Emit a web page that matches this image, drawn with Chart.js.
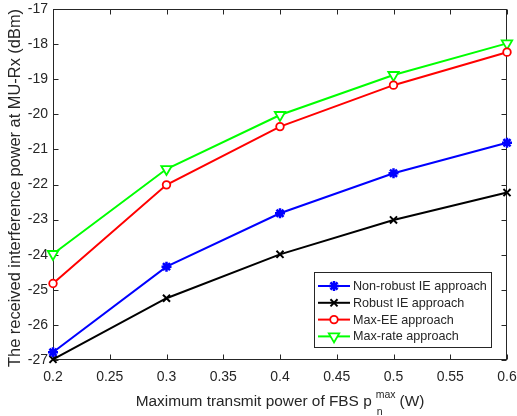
<!DOCTYPE html>
<html>
<head>
  <title>Interference power vs transmit power</title>
  <script src="https://cdn.jsdelivr.net/npm/chart.js"></script>
  <style>
    body { margin: 0; background: #fff; }
  </style>
</head>
<body>
<canvas id="ieChart" width="517" height="416"></canvas>

<script>
  // values
  const xValues = [0.2, 0.3, 0.4, 0.5, 0.6];
  const nonRobust = [-26.78, -24.34, -22.82, -21.68, -20.81];
  const robust = [-26.98, -25.24, -23.99, -23.01, -22.23];
  const maxEE = [-24.82, -22.01, -20.35, -19.17, -18.23];
  const maxRate = [-23.98, -21.56, -20.02, -18.88, -17.98];

  const xTicks = [0.2, 0.25, 0.3, 0.35, 0.4, 0.45, 0.5, 0.55, 0.6];
  const yTicks = [-27, -26, -25, -24, -23, -22, -21, -20, -19, -18, -17];

  const seriesNames = ['Non-robust IE approach', 'Robust IE approach', 'Max-EE approach', 'Max-rate approach'];

  const FONT = '"Liberation Sans", Arial, sans-serif';
  const AXIS_COLOR = '#262626';

  const toPoints = ys => xValues.map((x, i) => ({ x: x, y: ys[i] }));

  const datasets = [
    { label: seriesNames[0], data: toPoints(nonRobust), borderColor: '#0000ff', pointBorderColor: '#0000ff',
      pointBackgroundColor: '#0000ff', pointStyle: 'star', pointRadius: 5, pointBorderWidth: 2.5 },
    { label: seriesNames[1], data: toPoints(robust), borderColor: '#000000', pointBorderColor: '#000000',
      pointBackgroundColor: '#000000', pointStyle: 'crossRot', pointRadius: 5, pointBorderWidth: 2 },
    { label: seriesNames[2], data: toPoints(maxEE), borderColor: '#ff0000', pointBorderColor: '#ff0000',
      pointBackgroundColor: '#ffffff', pointStyle: 'circle', pointRadius: 3.8, pointBorderWidth: 1.8 },
    { label: seriesNames[3], data: toPoints(maxRate), borderColor: '#00ff00', pointBorderColor: '#00ff00',
      pointBackgroundColor: '#ffffff', pointStyle: 'triangle', pointRotation: 180, pointRadius: 6, pointBorderWidth: 1.8 }
  ];
  datasets.forEach(d => {
    d.borderWidth = 2;
    d.tension = 0;
    d.fill = false;
    d.clip = false;
    d.pointHoverRadius = d.pointRadius;
  });

  // MATLAB style box with inward ticks on all four sides
  const boxPlugin = {
    id: 'boxPlugin',
    beforeDatasetsDraw(chart) {
      const ctx = chart.ctx;
      const a = chart.chartArea;
      const xs = chart.scales.x, ys = chart.scales.y;
      const L = Math.round(a.left) + 0.5, R = Math.round(a.right) - 0.5;
      const T = Math.round(a.top) + 0.5, B = Math.round(a.bottom) - 0.5;
      ctx.save();
      ctx.strokeStyle = AXIS_COLOR;
      ctx.lineWidth = 1;
      ctx.strokeRect(L, T, R - L, B - T);
      ctx.beginPath();
      xTicks.forEach(v => {
        const px = Math.round(xs.getPixelForValue(v)) + 0.5;
        ctx.moveTo(px, B); ctx.lineTo(px, B - 5);
        ctx.moveTo(px, T); ctx.lineTo(px, T + 5);
      });
      yTicks.forEach(v => {
        const py = Math.round(ys.getPixelForValue(v)) + 0.5;
        ctx.moveTo(L, py); ctx.lineTo(L + 5, py);
        ctx.moveTo(R, py); ctx.lineTo(R - 5, py);
      });
      ctx.stroke();
      ctx.restore();
    },
    afterDraw(chart) {
      const ctx = chart.ctx;
      const a = chart.chartArea;
      ctx.save();
      ctx.fillStyle = AXIS_COLOR;

      // y axis title
      ctx.font = '16.4px ' + FONT;
      ctx.textAlign = 'center';
      ctx.textBaseline = 'middle';
      ctx.save();
      ctx.translate(15.5, 188);
      ctx.rotate(-Math.PI / 2);
      ctx.fillText('The received interference power at MU-Rx (dBm)', 0, 0);
      ctx.restore();

      // x axis title with p_n^max
      const mainTxt = 'Maximum transmit power of FBS p';
      const tailTxt = '(W)';
      ctx.textAlign = 'left';
      ctx.textBaseline = 'alphabetic';
      ctx.font = '15.4px ' + FONT;
      const wMain = ctx.measureText(mainTxt).width;
      const wTail = ctx.measureText(tailTxt).width;
      ctx.font = '10.5px ' + FONT;
      const wSup = ctx.measureText('max').width;
      const total = wMain + 4 + wSup + 4 + wTail;
      let x0 = (a.left + a.right) / 2 - total / 2;
      ctx.font = '15.4px ' + FONT;
      ctx.fillText(mainTxt, x0, 406);
      ctx.font = '10.5px ' + FONT;
      ctx.fillText('max', x0 + wMain + 4, 398);
      ctx.fillText('n', x0 + wMain + 5, 415);
      ctx.font = '15.4px ' + FONT;
      ctx.fillText(tailTxt, x0 + wMain + 4 + wSup + 4, 406);

      // legend box inside the axes
      const bx = 314.5, by = 272.5, bw = 177, bh = 75;
      ctx.fillStyle = '#ffffff';
      ctx.fillRect(bx, by, bw, bh);
      ctx.strokeStyle = AXIS_COLOR;
      ctx.lineWidth = 1;
      ctx.strokeRect(bx, by, bw, bh);
      ctx.font = '12.6px ' + FONT;
      ctx.textBaseline = 'middle';
      chart.data.datasets.forEach((ds, i) => {
        const yy = 286 + i * 16.8;
        ctx.strokeStyle = ds.borderColor;
        ctx.lineWidth = 2;
        ctx.beginPath();
        ctx.moveTo(318, yy);
        ctx.lineTo(350, yy);
        ctx.stroke();
        ctx.fillStyle = ds.pointBackgroundColor;
        ctx.lineWidth = ds.pointBorderWidth;
        Chart.helpers.drawPoint(ctx, {
          pointStyle: ds.pointStyle,
          rotation: ds.pointRotation || 0,
          radius: ds.pointRadius,
          borderWidth: ds.pointBorderWidth
        }, 334, yy);
        ctx.fillStyle = AXIS_COLOR;
        ctx.fillText(ds.label, 353, yy + 0.5);
      });
      ctx.restore();
    }
  };

  const ctx = document.getElementById('ieChart').getContext('2d');
  new Chart(ctx, {
    type: 'line',
    data: { datasets: datasets },
    plugins: [boxPlugin],
    options: {
      responsive: false,
      animation: false,
      devicePixelRatio: 1,
      layout: { padding: { left: 0, right: 0, top: 9, bottom: 0 } },
      plugins: {
        legend: { display: false },
        tooltip: { enabled: false }
      },
      scales: {
        x: {
          type: 'linear',
          min: 0.2,
          max: 0.6,
          afterBuildTicks: s => { s.ticks = xTicks.map(v => ({ value: v })); },
          afterFit: s => { s.height = 56; s.paddingLeft = 0; s.paddingRight = 10; },
          grid: { display: false, drawTicks: false },
          border: { display: false },
          ticks: {
            padding: 9,
            color: AXIS_COLOR,
            font: { family: FONT, size: 14 },
            maxRotation: 0,
            callback: v => String(+v.toFixed(2))
          }
        },
        y: {
          min: -27,
          max: -17,
          afterBuildTicks: s => { s.ticks = yTicks.map(v => ({ value: v })); },
          afterFit: s => { s.width = 53; s.paddingTop = 0; s.paddingBottom = 0; },
          grid: { display: false, drawTicks: false },
          border: { display: false },
          ticks: {
            padding: 5,
            color: AXIS_COLOR,
            font: { family: FONT, size: 14 },
            callback: v => String(v)
          }
        }
      }
    }
  });
</script>
</body>
</html>
